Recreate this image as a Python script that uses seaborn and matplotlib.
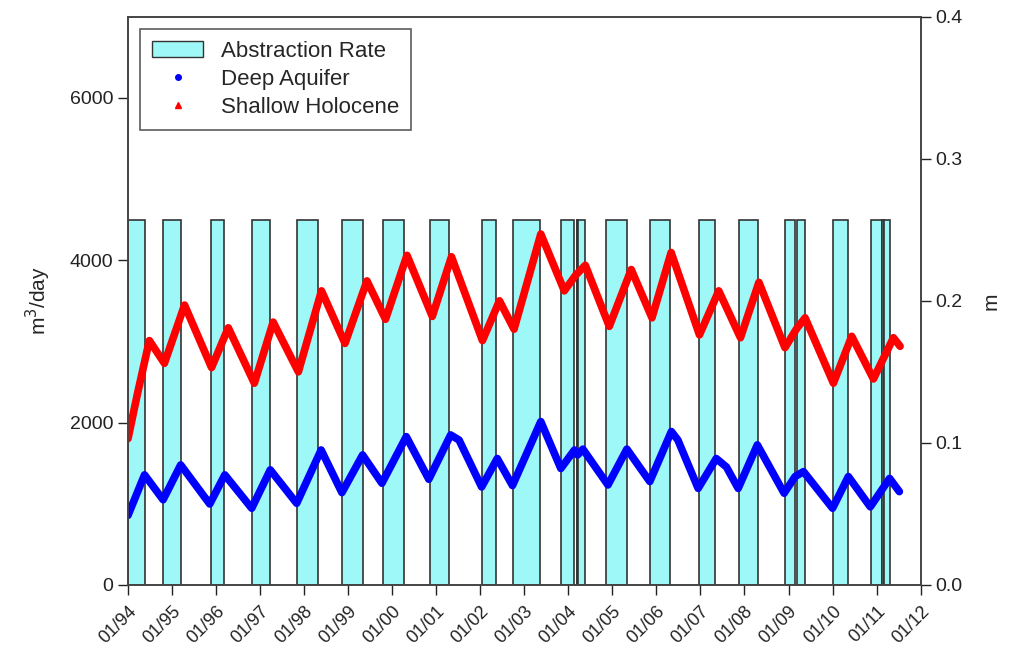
import pandas as pd
import numpy as np
import matplotlib
matplotlib.use("Agg")
import matplotlib.pyplot as plt
import matplotlib.dates as mdates
from matplotlib.patches import Patch
from matplotlib.lines import Line2D
import seaborn as sns

# Abstraction periods (pumping on), m3/day
pump_start = ["1994-01-01", "1994-10-19", "1995-11-17", "1996-10-27", "1997-10-31",
              "1998-11-14", "1999-10-16", "2000-11-10", "2002-01-12", "2002-10-01",
              "2003-10-31", "2004-03-10", "2004-03-10", "2004-11-10", "2005-11-10",
              "2006-12-24", "2007-11-14", "2008-12-02", "2009-03-10", "2010-01-01",
              "2010-11-17", "2011-02-19", "2011-03-05"]
pump_end = ["1994-05-18", "1995-03-14", "1996-03-06", "1997-03-26", "1998-04-23",
            "1999-05-08", "2000-04-12", "2001-04-19", "2002-05-15", "2003-05-11",
            "2004-02-21", "2004-05-22", "2004-03-22", "2005-05-01", "2006-04-20",
            "2007-05-05", "2008-04-20", "2009-02-26", "2009-05-18", "2010-05-12",
            "2011-02-19", "2011-03-05", "2011-04-23"]
pump_rate = 4500

# Shallow Holocene water level (m)
shallow_dates = ["1994-01-01", "1994-03-19", "1994-06-27", "1994-10-30", "1995-04-15", "1995-11-25",
                 "1996-04-12", "1996-11-14", "1997-04-19", "1997-11-14", "1998-05-25",
                 "1998-12-06", "1999-06-06", "1999-11-07", "2000-05-03", "2000-11-29",
                 "2001-05-07", "2002-01-19", "2002-06-09", "2002-10-08", "2003-05-18",
                 "2003-11-29", "2004-03-02", "2004-05-21", "2004-12-06", "2005-06-06",
                 "2005-11-25", "2006-05-03", "2006-12-24", "2007-06-02", "2007-11-29",
                 "2008-04-30", "2008-12-02", "2009-03-06", "2009-05-18", "2010-01-08",
                 "2010-06-09", "2010-12-06", "2011-05-21", "2011-07-15"]
shallow_m = [0.103, 0.134, 0.172, 0.156, 0.197, 0.153, 0.181, 0.142, 0.185, 0.150, 0.207,
             0.170, 0.214, 0.187, 0.232, 0.189, 0.231, 0.172, 0.200, 0.180, 0.247,
             0.207, 0.218, 0.225, 0.182, 0.222, 0.188, 0.234, 0.176, 0.207, 0.174,
             0.213, 0.167, 0.180, 0.188, 0.142, 0.175, 0.145, 0.174, 0.168]

# Deep aquifer water level (m)
deep_dates = ["1994-01-01", "1994-05-18", "1994-10-19", "1995-03-14", "1995-11-10",
              "1996-03-14", "1996-10-23", "1997-03-26", "1997-10-31", "1998-05-22",
              "1998-11-10", "1999-05-01", "1999-10-08", "2000-04-27", "2000-10-31",
              "2001-04-30", "2001-07-09", "2002-01-12", "2002-05-22", "2002-09-25",
              "2003-05-18", "2003-10-31", "2004-02-21", "2004-03-18", "2004-05-01",
              "2004-11-25", "2005-05-01", "2005-11-07", "2006-05-05", "2006-06-28",
              "2006-12-13", "2007-05-12", "2007-08-05", "2007-11-10", "2008-04-17",
              "2008-11-25", "2009-02-24", "2009-05-05", "2010-01-01", "2010-05-12",
              "2010-11-10", "2011-04-19", "2011-07-09"]
deep_m = [0.049, 0.0775, 0.060, 0.0845, 0.057, 0.0775, 0.054, 0.081, 0.0575, 0.095,
          0.065, 0.0915, 0.0716, 0.1044, 0.0744, 0.1056, 0.102, 0.069, 0.089, 0.070,
          0.115, 0.082, 0.095, 0.0915, 0.0956, 0.0704, 0.0956, 0.0728, 0.108, 0.102,
          0.068, 0.089, 0.083, 0.068, 0.0986, 0.0646, 0.0763, 0.0798, 0.054, 0.0763,
          0.055, 0.075, 0.0657]

year_ticks = [f"{y}-01-01" for y in range(1994, 2013)]

shallow_df = pd.DataFrame({"date": pd.to_datetime(shallow_dates), "level": shallow_m})
deep_df = pd.DataFrame({"date": pd.to_datetime(deep_dates), "level": deep_m})
starts = mdates.date2num(pd.to_datetime(pump_start))
ends = mdates.date2num(pd.to_datetime(pump_end))

sns.set_style("ticks")
plt.rcParams["font.family"] = ["Liberation Sans", "DejaVu Sans"]

fig = plt.figure(figsize=(10.24, 6.64), dpi=100)
ax = fig.add_axes([0.125, 0.119, 0.774, 0.856])
ax2 = ax.twinx()

bar_color = "#9ef8f8"
ax.bar(starts, [pump_rate] * len(starts), width=ends - starts, align="edge",
       color=bar_color, edgecolor="#333333", linewidth=1.2, zorder=2)

sns.lineplot(data=shallow_df, x="date", y="level", ax=ax2, color="#ff0000",
             linewidth=5.5, solid_joinstyle="round", solid_capstyle="round")
sns.lineplot(data=deep_df, x="date", y="level", ax=ax2, color="#0000ff",
             linewidth=5.5, solid_joinstyle="round", solid_capstyle="round")

ax.set_xlim(mdates.date2num(pd.Timestamp("1994-01-01")), mdates.date2num(pd.Timestamp("2012-01-01")))
ax.set_ylim(0, 7000)
ax2.set_ylim(0, 0.4)

ax.set_yticks([0, 2000, 4000, 6000])
ax2.set_yticks([0.0, 0.1, 0.2, 0.3, 0.4])
ax2.set_yticklabels(["0.0", "0.1", "0.2", "0.3", "0.4"])
ax.set_xticks(mdates.date2num(pd.to_datetime(year_ticks)))
ax.xaxis.set_major_formatter(mdates.DateFormatter("%m/%y"))
plt.setp(ax.get_xticklabels(), rotation=45, ha="right", rotation_mode="anchor")

for a in (ax, ax2):
    a.tick_params(direction="out", length=7, width=1, labelsize=14, colors="#222222")
    for s in a.spines.values():
        s.set_color("#444444")
        s.set_linewidth(1.2)
ax.tick_params(axis="x", labelsize=13, pad=6)

ax.set_xlabel("")
ax2.set_xlabel("")
ax.set_ylabel("m$^3$/day", fontsize=15, labelpad=12)
ax2.set_ylabel("m", fontsize=15, labelpad=14)

handles = [
    Patch(facecolor=bar_color, edgecolor="#333333", linewidth=1.0),
    Line2D([], [], linestyle="none", marker="o", color="#0000ff", markersize=4),
    Line2D([], [], linestyle="none", marker="^", color="#ff0000", markersize=4),
]
leg = ax2.legend(handles, ["Abstraction Rate", "Deep Aquifer", "Shallow Holocene"],
                 loc="upper left", bbox_to_anchor=(0.015, 0.979), borderaxespad=0,
                 fontsize=16, frameon=True, fancybox=False, edgecolor="#333333",
                 handlelength=2.3, handleheight=0.7, labelspacing=0.32,
                 borderpad=0.55, handletextpad=0.8)
leg.get_frame().set_linewidth(1.2)

plt.savefig("out.png", dpi=100)
